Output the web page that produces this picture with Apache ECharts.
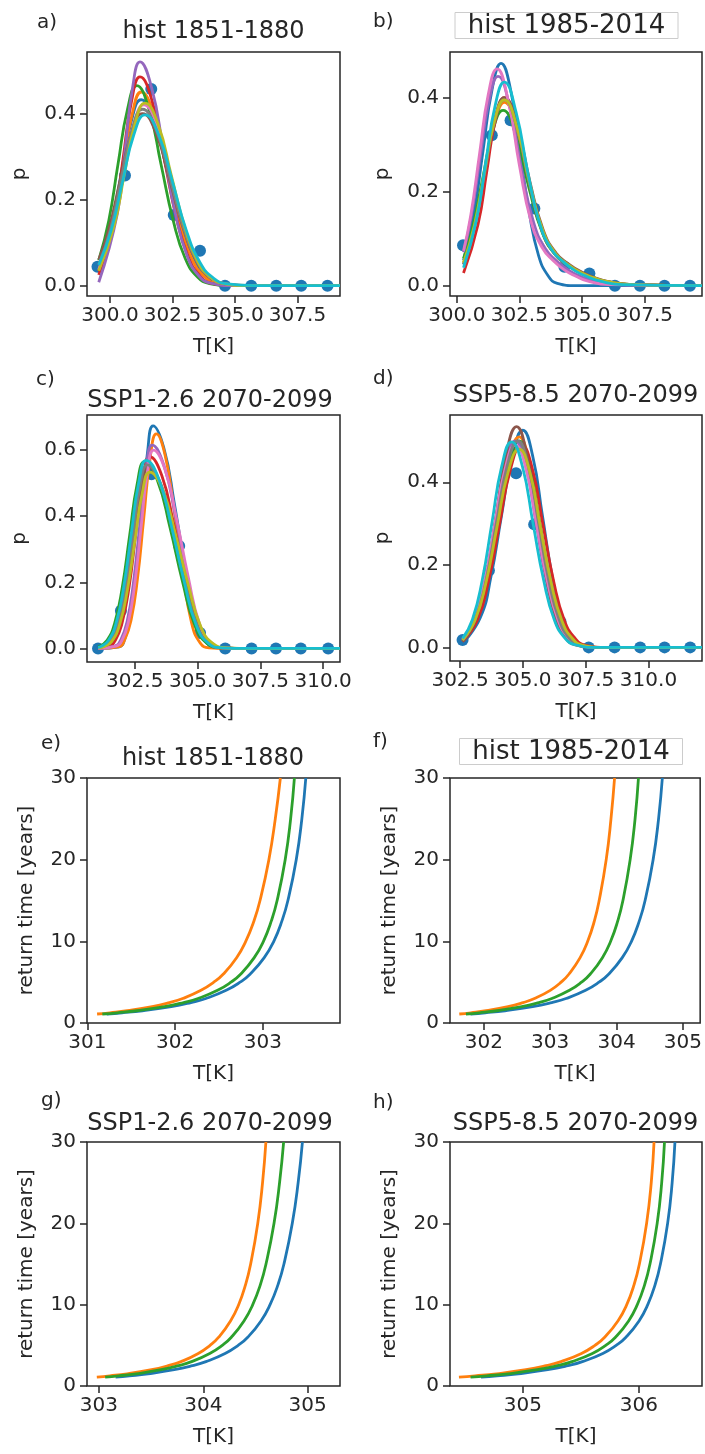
<!DOCTYPE html>
<html>
<head>
<meta charset="utf-8">
<script src="https://cdn.jsdelivr.net/npm/echarts@6/dist/echarts.min.js"></script>
<style>
  html, body { margin: 0; padding: 0; background: #fff; }
  #chart { width: 705px; height: 1454px; }
</style>
</head>
<body>
<div id="chart"></div>
<script>
// tab10 colours, in plotting order
const tab10 = ['#1f77b4', '#ff7f0e', '#2ca02c', '#d62728', '#9467bd',
               '#8c564b', '#e377c2', '#7f7f7f', '#bcbd22', '#17becf'];

// ---- histogram points (blue dots) ----
const binA = [299.5, 300.6, 301.65, 302.55, 303.6, 304.6, 305.65, 306.65, 307.65, 308.7];
const probA = [0.044, 0.256, 0.457, 0.164, 0.081, 0, 0, 0, 0, 0];
const binB = [300.25, 301.4, 302.15, 303.1, 304.3, 305.3, 306.32, 307.32, 308.3, 309.32];
const probB = [0.086, 0.32, 0.352, 0.164, 0.04, 0.026, 0, 0, 0, 0];
const binC = [301.04, 301.95, 303.17, 304.27, 305.1, 306.1, 307.15, 308.12, 309.11, 310.2];
const probC = [0, 0.114, 0.527, 0.31, 0.047, 0, 0, 0, 0, 0];
const binD = [302.6, 303.65, 304.73, 305.45, 306.5, 307.62, 308.65, 309.67, 310.64, 311.66];
const probD = [0.018, 0.186, 0.422, 0.298, 0.062, 0, 0, 0, 0, 0];

// ---- fitted pdf curves, 10 models per panel, [T, p] ----
const fitA = [
  [[299.55,0.045],[300.05,0.140],[300.45,0.262],[300.85,0.381],[301.25,0.432],[301.78,0.381],[302.30,0.262],[302.83,0.140],[303.35,0.058],[303.88,0.019],[304.40,0.005],[305.45,0],[309.2,0]],
  [[299.55,0.034],[300.13,0.146],[300.50,0.273],[300.88,0.397],[301.25,0.45],[301.76,0.397],[302.27,0.273],[302.78,0.146],[303.29,0.061],[303.80,0.020],[304.31,0.005],[305.33,0],[309.2,0]],
  [[299.55,0.059],[299.95,0.151],[300.32,0.282],[300.70,0.410],[301.07,0.465],[301.56,0.410],[302.04,0.282],[302.53,0.151],[303.01,0.063],[303.50,0.020],[303.98,0.005],[304.95,0],[309.2,0]],
  [[299.55,0.025],[300.18,0.157],[300.52,0.294],[300.86,0.428],[301.2,0.485],[301.69,0.428],[302.17,0.294],[302.66,0.157],[303.14,0.066],[303.63,0.021],[304.11,0.005],[305.08,0],[309.2,0]],
  [[299.55,0.008],[300.30,0.169],[300.60,0.315],[300.90,0.459],[301.20,0.52],[301.67,0.459],[302.14,0.315],[302.61,0.169],[303.08,0.070],[303.55,0.023],[304.02,0.006],[304.96,0],[309.2,0]],
  [[299.55,0.060],[299.95,0.130],[300.4,0.243],[300.85,0.353],[301.3,0.40],[301.85,0.353],[302.4,0.243],[302.95,0.130],[303.5,0.054],[304.05,0.018],[304.6,0.004],[305.7,0],[309.2,0]],
  [[299.55,0.038],[300.12,0.136],[300.53,0.255],[300.94,0.371],[301.35,0.42],[301.89,0.371],[302.43,0.255],[302.97,0.136],[303.51,0.057],[304.05,0.018],[304.59,0.005],[305.67,0],[309.2,0]],
  [[299.55,0.049],[300.03,0.133],[300.45,0.249],[300.88,0.362],[301.3,0.41],[301.85,0.362],[302.4,0.249],[302.95,0.133],[303.5,0.055],[304.05,0.018],[304.6,0.005],[305.7,0],[309.2,0]],
  [[299.55,0.035],[300.16,0.138],[300.57,0.257],[300.99,0.374],[301.4,0.424],[301.93,0.374],[302.45,0.257],[302.98,0.138],[303.5,0.057],[304.03,0.019],[304.55,0.005],[305.6,0],[309.2,0]],
  [[299.55,0.048],[300.05,0.129],[300.5,0.241],[300.95,0.350],[301.4,0.397],[301.95,0.350],[302.5,0.241],[303.05,0.129],[303.6,0.054],[304.15,0.017],[304.7,0.004],[305.8,0],[309.2,0]]
];
const fitB = [
  [[300.27,0.054],[300.69,0.154],[301.05,0.287],[301.41,0.417],[301.77,0.473],[302.15,0.417],[302.52,0.287],[302.9,0.154],[303.27,0.064],[303.65,0.021],[304.02,0.005],[304.77,0],[309.8,0]],
  [[300.27,0.049],[300.7,0.127],[301.1,0.237],[301.5,0.344],[301.9,0.39],[302.4,0.332],[302.9,0.215],[303.4,0.117],[303.9,0.068],[304.4,0.045],[304.9,0.028],[305.4,0.017],[305.9,0.009],[306.9,0.002],[309.8,0]],
  [[300.27,0.058],[300.62,0.121],[301.03,0.226],[301.44,0.329],[301.85,0.373],[302.375,0.317],[302.9,0.205],[303.425,0.112],[303.95,0.065],[304.475,0.043],[305.0,0.027],[305.525,0.016],[306.05,0.008],[307.1,0.002],[309.8,0]],
  [[300.27,0.027],[300.85,0.130],[301.2,0.243],[301.55,0.353],[301.9,0.40],[302.4,0.34],[302.9,0.22],[303.4,0.12],[303.9,0.07],[304.4,0.046],[304.9,0.029],[305.4,0.017],[305.9,0.009],[306.9,0.002],[309.8,0]],
  [[300.27,0.071],[300.57,0.145],[300.93,0.270],[301.29,0.393],[301.65,0.445],[302.125,0.378],[302.6,0.245],[303.075,0.134],[303.55,0.078],[304.025,0.051],[304.5,0.032],[304.975,0.019],[305.45,0.010],[306.4,0.002],[309.8,0]],
  [[300.27,0.045],[300.73,0.130],[301.12,0.243],[301.51,0.353],[301.9,0.40],[302.415,0.34],[302.93,0.22],[303.445,0.12],[303.96,0.07],[304.475,0.046],[304.99,0.029],[305.505,0.017],[306.02,0.009],[307.05,0.002],[309.8,0]],
  [[300.27,0.074],[300.56,0.150],[300.91,0.280],[301.26,0.407],[301.61,0.461],[302.06,0.392],[302.51,0.254],[302.96,0.138],[303.41,0.081],[303.86,0.053],[304.31,0.033],[304.76,0.020],[305.21,0.010],[306.11,0.002],[309.8,0]],
  [[300.27,0.045],[300.73,0.128],[301.12,0.240],[301.51,0.349],[301.9,0.395],[302.4,0.336],[302.9,0.217],[303.4,0.119],[303.9,0.069],[304.4,0.045],[304.9,0.028],[305.4,0.017],[305.9,0.009],[306.9,0.002],[309.8,0]],
  [[300.27,0.049],[300.7,0.128],[301.1,0.240],[301.5,0.349],[301.9,0.395],[302.41,0.336],[302.92,0.217],[303.43,0.119],[303.94,0.069],[304.45,0.045],[304.96,0.028],[305.47,0.017],[305.98,0.009],[307.0,0.002],[309.8,0]],
  [[300.27,0.038],[300.79,0.141],[301.16,0.263],[301.53,0.382],[301.9,0.433],[302.375,0.368],[302.85,0.238],[303.325,0.130],[303.8,0.076],[304.275,0.050],[304.75,0.031],[305.225,0.019],[305.7,0.010],[306.65,0.002],[309.8,0]]
];
const fitC = [
  [[301.04,0],[301.88,0.005],[302.11,0.030],[302.33,0.091],[302.56,0.219],[302.78,0.408],[303.01,0.594],[303.23,0.673],[303.66,0.606],[304.08,0.437],[304.51,0.242],[304.93,0.081],[305.36,0.017],[305.78,0.002],[306.63,0],[310.67,0]],
  [[301.04,0],[301.86,0.005],[302.11,0.028],[302.36,0.088],[302.61,0.211],[302.86,0.394],[303.11,0.573],[303.36,0.649],[303.71,0.584],[304.06,0.422],[304.41,0.234],[304.76,0.078],[305.11,0.016],[305.46,0.002],[306.16,0],[310.67,0]],
  [[301.04,0.004],[301.4,0.025],[301.7,0.076],[302.0,0.183],[302.3,0.343],[302.6,0.499],[302.9,0.565],[303.4,0.509],[303.9,0.367],[304.4,0.203],[304.9,0.068],[305.4,0.014],[305.9,0.002],[306.9,0],[310.67,0]],
  [[301.04,0.001],[301.45,0.006],[301.73,0.025],[302.0,0.078],[302.28,0.188],[302.55,0.352],[302.83,0.512],[303.1,0.58],[303.58,0.522],[304.05,0.377],[304.53,0.209],[305.0,0.070],[305.48,0.015],[305.95,0.002],[306.9,0],[310.67,0]],
  [[301.04,0],[301.7,0.007],[301.95,0.027],[302.2,0.083],[302.45,0.200],[302.7,0.373],[302.95,0.543],[303.2,0.615],[303.66,0.554],[304.12,0.400],[304.58,0.221],[305.04,0.074],[305.5,0.015],[305.96,0.002],[306.88,0],[310.67,0]],
  [[301.04,0.002],[301.31,0.006],[301.6,0.024],[301.89,0.074],[302.18,0.179],[302.47,0.334],[302.76,0.485],[303.05,0.55],[303.55,0.495],[304.05,0.358],[304.55,0.198],[305.05,0.066],[305.55,0.014],[306.05,0.002],[307.05,0],[310.67,0]],
  [[301.04,0],[301.75,0.007],[302.0,0.026],[302.25,0.081],[302.5,0.195],[302.75,0.364],[303.0,0.530],[303.25,0.60],[303.71,0.54],[304.17,0.39],[304.63,0.216],[305.09,0.072],[305.55,0.015],[306.01,0.002],[306.93,0],[310.67,0]],
  [[301.04,0.002],[301.26,0.006],[301.55,0.024],[301.84,0.075],[302.13,0.180],[302.42,0.337],[302.71,0.490],[303.0,0.555],[303.5,0.50],[304.0,0.361],[304.5,0.2],[305.0,0.067],[305.5,0.014],[306.0,0.002],[307.0,0],[310.67,0]],
  [[301.04,0.002],[301.3,0.006],[301.6,0.023],[301.9,0.072],[302.2,0.173],[302.5,0.323],[302.8,0.470],[303.1,0.533],[303.61,0.48],[304.12,0.346],[304.63,0.192],[305.14,0.064],[305.65,0.013],[306.16,0.002],[307.18,0],[310.67,0]],
  [[301.04,0.003],[301.16,0.006],[301.46,0.025],[301.76,0.077],[302.06,0.185],[302.36,0.345],[302.66,0.502],[302.96,0.569],[303.46,0.512],[303.96,0.370],[304.46,0.205],[304.96,0.068],[305.46,0.014],[305.96,0.002],[306.96,0],[310.67,0]]
];
const fitD = [
  [[302.6,0.010],[303.3,0.071],[303.73,0.171],[304.15,0.319],[304.58,0.464],[305.0,0.526],[305.39,0.464],[305.78,0.319],[306.17,0.171],[306.56,0.071],[306.95,0.023],[307.34,0.006],[308.12,0],[312.13,0]],
  [[302.6,0.015],[303.15,0.069],[303.58,0.166],[304.0,0.309],[304.43,0.450],[304.85,0.51],[305.25,0.450],[305.65,0.309],[306.05,0.166],[306.45,0.069],[306.85,0.022],[307.25,0.006],[308.05,0],[312.13,0]],
  [[302.6,0.015],[303.15,0.068],[303.58,0.162],[304.0,0.303],[304.43,0.441],[304.85,0.50],[305.26,0.441],[305.67,0.303],[306.08,0.162],[306.49,0.068],[306.9,0.022],[307.31,0.006],[308.13,0],[312.13,0]],
  [[302.6,0.014],[303.19,0.066],[303.63,0.159],[304.07,0.297],[304.51,0.432],[304.95,0.49],[305.38,0.432],[305.8,0.297],[306.23,0.159],[306.65,0.066],[307.08,0.022],[307.5,0.005],[308.35,0],[312.13,0]],
  [[302.6,0.016],[303.1,0.068],[303.5,0.162],[303.9,0.303],[304.3,0.441],[304.7,0.50],[305.11,0.441],[305.52,0.303],[305.93,0.162],[306.34,0.068],[306.75,0.022],[307.16,0.006],[307.98,0],[312.13,0]],
  [[302.6,0.014],[303.15,0.072],[303.55,0.174],[303.95,0.324],[304.35,0.472],[304.75,0.535],[305.14,0.472],[305.53,0.324],[305.92,0.174],[306.31,0.072],[306.7,0.023],[307.09,0.006],[307.87,0],[312.13,0]],
  [[302.6,0.019],[303.06,0.066],[303.47,0.159],[303.88,0.297],[304.29,0.432],[304.7,0.49],[305.13,0.432],[305.55,0.297],[305.98,0.159],[306.4,0.066],[306.83,0.022],[307.25,0.005],[308.1,0],[312.13,0]],
  [[302.6,0.017],[303.1,0.068],[303.53,0.162],[303.95,0.303],[304.38,0.441],[304.8,0.50],[305.21,0.441],[305.62,0.303],[306.03,0.162],[306.44,0.068],[306.85,0.022],[307.26,0.006],[308.08,0],[312.13,0]],
  [[302.6,0.018],[303.09,0.065],[303.53,0.156],[303.97,0.291],[304.41,0.424],[304.85,0.48],[305.28,0.424],[305.7,0.291],[306.13,0.156],[306.55,0.065],[306.98,0.021],[307.4,0.005],[308.25,0],[312.13,0]],
  [[302.6,0.022],[302.99,0.067],[303.38,0.162],[303.77,0.302],[304.16,0.439],[304.55,0.498],[304.98,0.439],[305.4,0.302],[305.83,0.162],[306.25,0.067],[306.68,0.022],[307.1,0.006],[307.95,0],[312.13,0]]
];

// ---- return time curves: years on y, temperature read for each curve ----
const retYears = [1.1, 1.25, 1.5, 2, 2.5, 3, 4, 5, 6, 8, 10, 12.5, 15, 20, 25, 30];
const retE_blue   = [301.22, 301.395, 301.626, 301.956, 302.18, 302.351, 302.582, 302.741, 302.857, 303.016, 303.125, 303.218, 303.286, 303.381, 303.445, 303.49];
const retE_orange = [301.11, 301.256, 301.455, 301.739, 301.936, 302.086, 302.295, 302.441, 302.55, 302.701, 302.805, 302.899, 302.968, 303.069, 303.142, 303.2];
const retE_green  = [301.17, 301.339, 301.562, 301.88, 302.096, 302.261, 302.484, 302.637, 302.749, 302.902, 303.007, 303.097, 303.163, 303.255, 303.317, 303.36];
const retF_blue   = [301.8, 302.023, 302.317, 302.736, 303.023, 303.239, 303.534, 303.736, 303.884, 304.086, 304.225, 304.343, 304.43, 304.551, 304.633, 304.69];
const retF_orange = [301.63, 301.803, 302.035, 302.365, 302.592, 302.763, 303.001, 303.165, 303.284, 303.451, 303.565, 303.666, 303.738, 303.844, 303.916, 303.97];
const retF_green  = [301.73, 301.93, 302.195, 302.572, 302.83, 303.025, 303.29, 303.472, 303.605, 303.787, 303.911, 304.018, 304.096, 304.205, 304.279, 304.33];
const retG_blue   = [303.16, 303.293, 303.47, 303.722, 303.896, 304.026, 304.209, 304.334, 304.426, 304.553, 304.64, 304.717, 304.773, 304.853, 304.909, 304.95];
const retG_orange = [302.98, 303.105, 303.27, 303.505, 303.665, 303.787, 303.952, 304.065, 304.148, 304.261, 304.339, 304.406, 304.454, 304.522, 304.568, 304.6];
const retG_green  = [303.06, 303.187, 303.356, 303.597, 303.763, 303.888, 304.062, 304.182, 304.269, 304.39, 304.474, 304.548, 304.601, 304.678, 304.731, 304.77];
const retH_blue   = [304.64, 304.779, 304.961, 305.215, 305.387, 305.513, 305.689, 305.804, 305.888, 306.001, 306.076, 306.14, 306.185, 306.247, 306.286, 306.31];
const retH_orange = [304.45, 304.589, 304.773, 305.028, 305.201, 305.329, 305.505, 305.621, 305.705, 305.819, 305.895, 305.959, 306.004, 306.066, 306.106, 306.13];
const retH_green  = [304.55, 304.689, 304.871, 305.125, 305.297, 305.423, 305.599, 305.714, 305.798, 305.911, 305.986, 306.05, 306.095, 306.157, 306.196, 306.22];

// ---- tick labels ----
const xTicksA = [300.0, 302.5, 305.0, 307.5];
const xTicksB = [300.0, 302.5, 305.0, 307.5];
const xTicksC = [302.5, 305.0, 307.5, 310.0];
const xTicksD = [302.5, 305.0, 307.5, 310.0];
const xTicksE = [301, 302, 303];
const xTicksF = [302, 303, 304, 305];
const xTicksG = [303, 304, 305];
const xTicksH = [305, 306];
const yTicksP = [0, 0.2, 0.4];
const yTicksPC = [0, 0.2, 0.4, 0.6];
const yTicksRet = [0, 10, 20, 30];

const titles = ['hist 1851-1880', 'hist 1985-2014', 'SSP1-2.6 2070-2099', 'SSP5-8.5 2070-2099',
                'hist 1851-1880', 'hist 1985-2014', 'SSP1-2.6 2070-2099', 'SSP5-8.5 2070-2099'];
const panelLabels = ['a)', 'b)', 'c)', 'd)', 'e)', 'f)', 'g)', 'h)'];

// ---- layout ----
var FONT = '"DejaVu Sans", sans-serif';
var INK = '#262626';
var boxes = [[87, 52, 253, 244], [450, 52, 252, 244], [87, 415, 253, 247], [450, 415, 252, 246],
             [87, 778, 253, 245], [450, 778, 252, 245], [87, 1142, 253, 244], [450, 1142, 252, 244]];
var xRanges = [[299.08, 309.2], [299.73, 309.8], [300.6, 310.67], [302.1, 312.13],
               [300.995, 303.88], [301.49, 305.26], [302.886, 305.31], [304.373, 306.543]];
var yRanges = [[-0.024, 0.543], [-0.022, 0.497], [-0.041, 0.706], [-0.033, 0.563],
               [0, 30], [0, 30], [0, 30], [0, 30]];
var xTicks = [xTicksA, xTicksB, xTicksC, xTicksD, xTicksE, xTicksF, xTicksG, xTicksH];
var yTicks = [yTicksP, yTicksP, yTicksPC, yTicksP, yTicksRet, yTicksRet, yTicksRet, yTicksRet];
var titlePos = [[213.5, 20], [553.5, 12], [210, 389], [575.5, 384], [213, 747], [558, 738], [210, 1112], [575.5, 1112]];
var labelPos = [[37, 13], [373, 12], [36, 370], [373, 369], [41, 734], [373, 732], [41, 1091], [373, 1093]];

var grids = [], xAxes = [], yAxes = [], series = [], titleList = [], graphics = [];

boxes.forEach(function (b, i) {
    var isPdf = i < 4;
    grids.push({ left: b[0], top: b[1], width: b[2], height: b[3], show: true,
        borderColor: INK, borderWidth: 1.5, backgroundColor: 'transparent' });
    xAxes.push({
        type: 'value', gridIndex: i, min: xRanges[i][0], max: xRanges[i][1],
        name: 'T[K]', nameLocation: 'middle', nameGap: 41,
        nameTextStyle: { fontFamily: FONT, fontSize: 20, color: INK },
        axisLine: { show: false, onZero: false },
        axisTick: { show: true, length: 7, lineStyle: { color: INK, width: 1.5 }, customValues: xTicks[i] },
        axisLabel: { fontFamily: FONT, fontSize: 20, color: INK, margin: 10, customValues: xTicks[i],
            formatter: function (v) { return isPdf ? v.toFixed(1) : String(Math.round(v)); } },
        splitLine: { show: false }
    });
    yAxes.push({
        type: 'value', gridIndex: i, min: yRanges[i][0], max: yRanges[i][1],
        name: isPdf ? 'p' : 'return time [years]', nameLocation: 'middle', nameRotate: 90,
        nameGap: isPdf ? 57 : 50,
        nameTextStyle: { fontFamily: FONT, fontSize: 20, color: INK },
        axisLine: { show: false, onZero: false },
        axisTick: { show: true, length: 7, lineStyle: { color: INK, width: 1.5 }, customValues: yTicks[i] },
        axisLabel: { fontFamily: FONT, fontSize: 20, color: INK, margin: 11, customValues: yTicks[i],
            formatter: function (v) { return isPdf ? v.toFixed(1) : String(Math.round(v)); } },
        splitLine: { show: false }
    });
    var boxed = (i === 1 || i === 5);
    titleList.push({
        text: titles[i], left: titlePos[i][0], top: titlePos[i][1], textAlign: 'center',
        padding: boxed ? [1, 13, 0, 13] : 0,
        borderColor: boxed ? '#cccccc' : 'transparent', borderWidth: boxed ? 1 : 0,
        backgroundColor: boxed ? '#fff' : 'transparent',
        textStyle: { fontFamily: FONT, fontSize: boxed ? 26 : 24, fontWeight: 'normal', color: INK }
    });
    graphics.push({ type: 'text', left: labelPos[i][0], top: labelPos[i][1],
        style: { text: panelLabels[i], font: '20px ' + FONT, fill: INK } });
});

function addPdf(i, bins, probs, fits) {
    series.push({ type: 'scatter', xAxisIndex: i, yAxisIndex: i, symbolSize: 12,
        itemStyle: { color: tab10[0], opacity: 1 },
        data: bins.map(function (x, k) { return [x, probs[k]]; }) });
    fits.forEach(function (curve, c) {
        series.push({ type: 'line', xAxisIndex: i, yAxisIndex: i, data: curve, smooth: true,
            showSymbol: false, lineStyle: { color: tab10[c], width: 2.8 }, itemStyle: { color: tab10[c] } });
    });
}
function addRet(i, temps) {
    temps.forEach(function (t, c) {
        series.push({ type: 'line', xAxisIndex: i, yAxisIndex: i, smooth: true, showSymbol: false,
            data: t.map(function (x, k) { return [x, retYears[k]]; }),
            lineStyle: { color: tab10[c], width: 2.8 }, itemStyle: { color: tab10[c] } });
    });
}
addPdf(0, binA, probA, fitA);
addPdf(1, binB, probB, fitB);
addPdf(2, binC, probC, fitC);
addPdf(3, binD, probD, fitD);
addRet(4, [retE_blue, retE_orange, retE_green]);
addRet(5, [retF_blue, retF_orange, retF_green]);
addRet(6, [retG_blue, retG_orange, retG_green]);
addRet(7, [retH_blue, retH_orange, retH_green]);

var myChart = echarts.init(document.getElementById('chart'), null, { renderer: 'canvas' });
myChart.setOption({
    animation: false,
    backgroundColor: '#fff',
    title: titleList,
    grid: grids,
    xAxis: xAxes,
    yAxis: yAxes,
    graphic: graphics,
    series: series
});
</script>
</body>
</html>
